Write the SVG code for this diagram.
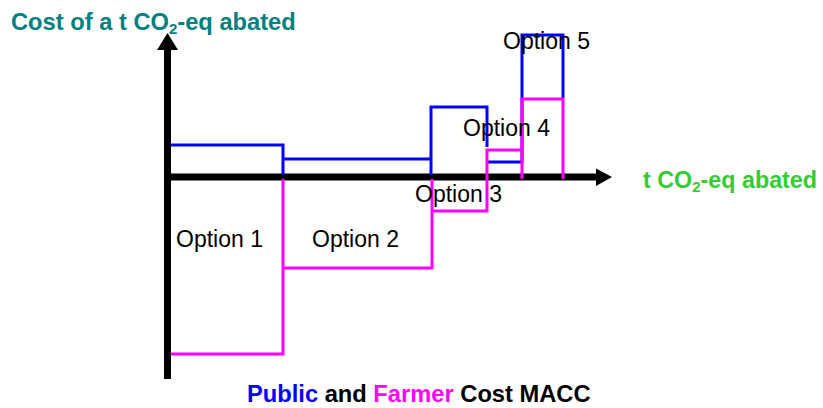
<svg xmlns="http://www.w3.org/2000/svg" width="823" height="408" viewBox="0 0 823 408">
<style>
.t{font-family:"Liberation Sans",Arial,sans-serif;font-size:23px}
.b{font-weight:bold;font-size:23.7px}
.lbl{fill:#000}
.pub{fill:none;stroke:#0000FF;stroke-width:3}
.farm{fill:none;stroke:#FF00FF;stroke-width:3}
.axis{fill:none;stroke:#000;stroke-width:7}
</style>
<rect width="823" height="408" fill="#fff"/>
<g id="axes">
<line class="axis" x1="167.5" y1="48" x2="167.5" y2="379"/>
<polygon points="167.5,33 157,50 178,50" fill="#000"/>
<line class="axis" x1="164" y1="177" x2="598" y2="177"/>
<polygon points="612,177 596,168.5 596,186" fill="#000"/>
</g>
<g id="connectors">
<path id="public-curve" class="pub" d="M171,145 H283 V175 M283,159 H431 V175 M431,159 V107 H487 V147 M487,162 H522 V35 H563 V98"/>
<path id="farmer-curve" class="farm" d="M171,354 H283 V179 M283,268 H432 V179 M432,211 H487 V150 H522 V99 H563 V179 M487,150 V211 M522,150 V179"/>
</g>
<g id="option1"><text class="t lbl" x="176" y="247">Option 1</text></g>
<g id="option2"><text class="t lbl" x="312" y="247">Option 2</text></g>
<g id="option3"><text class="t lbl" x="415" y="202">Option 3</text></g>
<g id="option4"><text class="t lbl" x="463" y="136">Option 4</text></g>
<g id="option5"><text class="t lbl" x="503" y="49">Option 5</text></g>
<g id="y-label"><text class="t b" x="11" y="30" fill="#008080">Cost of a t CO<tspan font-size="15" dy="4">2</tspan><tspan dy="-4">-eq abated</tspan></text></g>
<g id="x-label"><text class="t b" x="643" y="188" fill="#33CC33" style="font-size:23.3px">t CO<tspan font-size="15" dy="4">2</tspan><tspan dy="-4">-eq abated</tspan></text></g>
<g id="caption"><text class="t b" x="247" y="402"><tspan fill="#0000FF">Public</tspan> and <tspan fill="#FF00FF">Farmer</tspan> Cost MACC</text></g>
</svg>
